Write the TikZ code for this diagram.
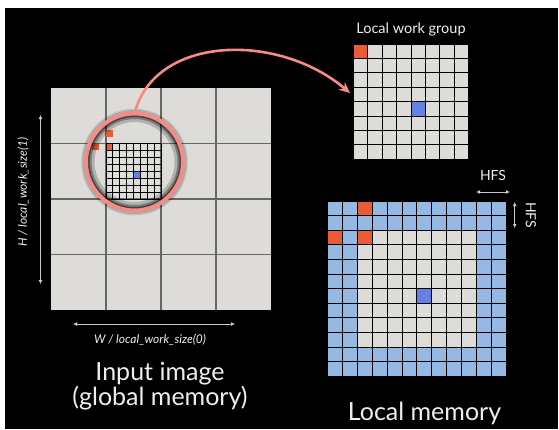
\documentclass[tikz,border=0pt]{standalone}
\usepackage{fontspec}
\setmainfont{Lato}
\usetikzlibrary{positioning,arrows.meta}
\definecolor{cellGrey}{HTML}{DDDCD8}
\definecolor{haloBlue}{HTML}{95B9E3}
\definecolor{pixRed}{HTML}{EB5B35}
\definecolor{pixBlue}{HTML}{6380E2}
\definecolor{lensPink}{HTML}{F58A86}
\definecolor{textGrey}{HTML}{EEEEEE}
\tikzset{
  bigGrid/.style={draw=black!60, line width=1.2pt},
  fineGrid/.style={draw=black, line width=0.9pt},
  cellGrid/.style={draw=black, line width=1pt},
  dimArrow/.style={{Latex[length=4pt,width=4pt]}-{Latex[length=4pt,width=4pt]}, draw=textGrey!85!black, line width=0.9pt},
  caption/.style={text=textGrey, inner sep=0pt},
}

\begin{document}
\begin{tikzpicture}[x=1pt,y=-1pt]
\useasboundingbox (0,0) rectangle (559,429);
\fill[white] (0,0) rectangle (559,429);
\fill[black] (5,8) rectangle (558,429);

%% input image, 4x4 work groups
\fill[cellGrey] (51,88) rectangle (271,310);
\foreach \i in {1,2,3} {
  \draw[bigGrid] (51+\i*55,88) -- ++(0,222);
  \draw[bigGrid] (51,88+\i*55.5) -- ++(220,0);
}
% pixels of one work group
\foreach \c/\r/\col in {0/-2/pixRed, -2/0/pixRed, 0/0/pixRed, 4/4/pixBlue}
  \fill[\col] (106+\c*6.875,143.5+\r*6.94) rectangle ++(6.875,6.94);
\foreach \i in {0,...,8} {
  \draw[fineGrid] (106+\i*6.875,143.5) -- ++(0,55.5);
  \draw[fineGrid] (106,143.5+\i*6.94) -- ++(55,0);
}

%the lens
\node [circle, minimum size=97pt, inner sep=0pt] (lens) at (134.5,162) {};
\draw [black, opacity=0.2, line width=7pt] (lens.center) circle (43.5pt);
\draw [black, opacity=0.3, line width=4pt] (lens.center) circle (45pt);
\draw [black, opacity=0.45, line width=2pt] (lens.center) circle (46pt);
\draw [black, opacity=0.2, line width=2pt] (lens.center) circle (51pt);
\draw [black, opacity=0.1, line width=2pt] (lens.center) circle (52.5pt);
\draw [lensPink, line width=4pt] (lens.center) circle (48.5pt);

%% local work group
\node [caption, font=\fontsize{14.5}{16}\selectfont, anchor=base] (groupTitle) at (411,33) {Local work group};
\coordinate (groupGrid) at (353.5,44);
\fill[cellGrey] (groupGrid) rectangle ++(115.2,115.2);
\foreach \c/\r/\col in {0/0/pixRed, 4/4/pixBlue}
  \fill[\col] ([shift={(\c*14.4,\r*14.4)}]groupGrid) rectangle ++(14.4,14.4);
\foreach \i in {0,...,8} {
  \draw[cellGrid] ([shift={(\i*14.4,0)}]groupGrid) -- ++(0,115.2);
  \draw[cellGrid] ([shift={(0,\i*14.4)}]groupGrid) -- ++(115.2,0);
}
\coordinate (groupIn) at (350,93);

%drawing of the zoom arrow
\draw [lensPink, line width=2.6pt, -{Stealth[length=11pt,width=10pt]}]
  (lens.north) .. controls (155,35) and (278,32) .. (groupIn);

%% local memory with halo
\coordinate (memGrid) at (327.5,201);
\fill[haloBlue] (memGrid) rectangle ++(178.8,175.2);
\fill[cellGrey] ([shift={(2*14.9,2*14.6)}]memGrid) rectangle ++(8*14.9,8*14.6);
\foreach \c/\r/\col in {2/0/pixRed, 0/2/pixRed, 2/2/pixRed, 6/6/pixBlue}
  \fill[\col] ([shift={(\c*14.9,\r*14.6)}]memGrid) rectangle ++(14.9,14.6);
\foreach \i in {0,...,12} {
  \draw[cellGrid] ([shift={(\i*14.9,0)}]memGrid) -- ++(0,175.2);
  \draw[cellGrid] ([shift={(0,\i*14.6)}]memGrid) -- ++(178.8,0);
}

%dimension arrows
\coordinate (hTop) at (40.5,115);
\coordinate (hBot) at (40.5,284);
\coordinate (wLeft) at (73,324);
\coordinate (wRight) at (235,324);
\draw [dimArrow] (hTop) -- (hBot);
\draw [dimArrow] (wLeft) -- (wRight);
\node [caption, font=\fontsize{12}{14}\itshape, rotate=90] (hLabel) at (23,192) {H / local\_work\_size(1)};
\node [caption, font=\fontsize{12}{14}\itshape] (wLabel) at (150,340) {W / local\_work\_size(0)};

\coordinate (hfsLeft) at (476,192);
\coordinate (hfsRight) at (510,192);
\coordinate (hfsTop) at (514.7,202);
\coordinate (hfsBot) at (514.7,228);
\draw [dimArrow] (hfsLeft) -- (hfsRight);
\draw [dimArrow] (hfsTop) -- (hfsBot);
\node [caption, font=\fontsize{14}{16}\selectfont, anchor=base] (hfsLabel) at (493,180.5) {HFS};
\node [caption, font=\fontsize{14}{16}\selectfont, rotate=-90] (hfsSide) at (531,215) {HFS};

%% captions
\node [caption, font=\fontsize{25}{23}\selectfont, align=center] (inputCaption) at (160,386) {Input image\\(global memory)};
\node [caption, font=\fontsize{25}{27}\selectfont, anchor=base] (memCaption) at (424.5,420) {Local memory};
\end{tikzpicture}
\end{document}
